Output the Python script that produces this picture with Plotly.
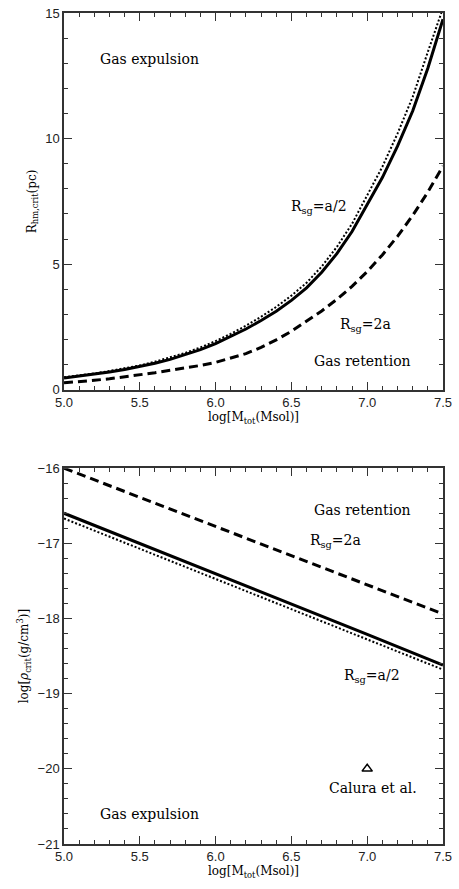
import plotly.graph_objects as go

# ---------------- data ----------------
logM = [5.0, 5.1, 5.2, 5.3, 5.4, 5.5, 5.6, 5.7, 5.8, 5.9, 6.0, 6.1, 6.2,
        6.3, 6.4, 6.5, 6.6, 6.7, 6.8, 6.9, 7.0, 7.1, 7.2, 7.3, 7.4, 7.5]
R_half = [0.47, 0.54, 0.62, 0.71, 0.81, 0.92, 1.06, 1.21, 1.39, 1.60, 1.84, 2.12, 2.42,
          2.76, 3.13, 3.56, 4.06, 4.68, 5.42, 6.30, 7.35, 8.45, 9.70, 11.10, 12.80, 14.75]  # solid
R_dot = [0.50, 0.57, 0.65, 0.75, 0.85, 0.97, 1.12, 1.28, 1.47, 1.69, 1.94, 2.23, 2.55,
         2.91, 3.30, 3.75, 4.26, 4.91, 5.69, 6.61, 7.72, 8.88, 10.20, 11.66, 13.45, 15.20]  # dotted
R_2a = [0.28, 0.32, 0.38, 0.44, 0.51, 0.59, 0.68, 0.78, 0.87, 0.97, 1.09, 1.25, 1.44,
        1.69, 1.99, 2.33, 2.72, 3.14, 3.60, 4.12, 4.71, 5.37, 6.11, 6.94, 7.87, 8.91]       # dashed

logM_b = [5.0, 5.5, 6.0, 6.5, 7.0, 7.5]
rho_half = [-16.60, -17.00, -17.40, -17.81, -18.21, -18.62]
rho_dot = [-16.67, -17.07, -17.47, -17.88, -18.28, -18.68]
rho_2a = [-16.00, -16.39, -16.78, -17.17, -17.55, -17.94]

calura_x = [7.0]
calura_y = [-20.0]

xticks = [5.0, 5.5, 6.0, 6.5, 7.0, 7.5]
yticks_top = [0, 5, 10, 15]
yticks_bot = [-21, -20, -19, -18, -17, -16]

W, H = 459, 889
ML, MR, MT, MB = 64, 16, 6, 45
ph = H - MT - MB
top_dom = [1 - 380 / ph, 1]
bot_dom = [0, 1 - 459 / ph]

SERIF = "DejaVu Serif"
TICKF = dict(family="Liberation Sans", size=13, color="#222")
AX = "#333"

fig = go.Figure()
k = dict(mode="lines", showlegend=False, hoverinfo="skip")
fig.add_trace(go.Scatter(x=logM, y=R_dot, line=dict(color="black", width=2, dash="2px,2px"), xaxis="x", yaxis="y", **k))
fig.add_trace(go.Scatter(x=logM, y=R_half, line=dict(color="black", width=3), xaxis="x", yaxis="y", **k))
fig.add_trace(go.Scatter(x=logM, y=R_2a, line=dict(color="black", width=3, dash="9px,5px"), xaxis="x", yaxis="y", **k))

fig.add_trace(go.Scatter(x=logM_b, y=rho_dot, line=dict(color="black", width=2, dash="2px,2px"), xaxis="x2", yaxis="y2", **k))
fig.add_trace(go.Scatter(x=logM_b, y=rho_half, line=dict(color="black", width=3), xaxis="x2", yaxis="y2", **k))
fig.add_trace(go.Scatter(x=logM_b, y=rho_2a, line=dict(color="black", width=3, dash="9px,5px"), xaxis="x2", yaxis="y2", **k))
fig.add_trace(go.Scatter(x=calura_x, y=calura_y, mode="markers", showlegend=False, hoverinfo="skip",
                         marker=dict(symbol="triangle-up-open", size=9, color="black", line=dict(width=1.5)),
                         xaxis="x2", yaxis="y2"))

def xax(anchor, dom):
    return dict(domain=[0, 1], anchor=anchor, range=[5.0, 7.5], tickvals=xticks, tickformat=".1f",
                ticks="inside", ticklen=8, tickwidth=1, tickcolor=AX, showline=True, linecolor=AX,
                linewidth=1.5, mirror="ticks", showgrid=False, zeroline=False, tickfont=TICKF,
                minor=dict(dtick=0.1, ticks="inside", ticklen=4, tickcolor=AX, showgrid=False),
                title=dict(text="log[M<sub>tot</sub>(Msol)]", font=dict(family=SERIF, size=12, color="black"), standoff=2))

def yax(anchor, dom, rng, tv, mdt, title):
    return dict(domain=dom, anchor=anchor, range=rng, tickvals=tv,
                ticks="inside", ticklen=8, tickwidth=1, tickcolor=AX, showline=True, linecolor=AX,
                linewidth=1.5, mirror="ticks", showgrid=False, zeroline=False, tickfont=TICKF,
                minor=dict(dtick=mdt, ticks="inside", ticklen=4, tickcolor=AX, showgrid=False),
                title=dict(text=title, font=dict(family=SERIF, size=12, color="black"), standoff=6))

fig.update_layout(
    width=W, height=H, margin=dict(l=ML, r=MR, t=MT, b=MB),
    paper_bgcolor="white", plot_bgcolor="white",
    xaxis=xax("y", top_dom),
    yaxis=yax("x", top_dom, [0, 15], yticks_top, 1, "R<sub>hm,crit</sub>(pc)"),
    xaxis2=xax("y2", bot_dom),
    yaxis2=yax("x2", bot_dom, [-21, -16], yticks_bot, 0.2, "log[<i>ρ</i><sub>crit</sub>(g/cm<sup>3</sup>)]"),
)

AF = dict(family=SERIF, size=14, color="black")
ann = [
    ("x", "y", 5.567, 13.15, "Gas expulsion"),
    ("x", "y", 6.68, 7.28, "R<sub>sg</sub>=a/2"),
    ("x", "y", 6.99, 2.6, "R<sub>sg</sub>=2a"),
    ("x", "y", 6.97, 1.16, "Gas retention"),
    ("x2", "y2", 6.97, -16.55, "Gas retention"),
    ("x2", "y2", 6.79, -16.97, "R<sub>sg</sub>=2a"),
    ("x2", "y2", 7.03, -18.77, "R<sub>sg</sub>=a/2"),
    ("x2", "y2", 7.04, -20.25, "Calura et al."),
    ("x2", "y2", 5.567, -20.6, "Gas expulsion"),
]
for xr, yr, x, y, t in ann:
    fig.add_annotation(xref=xr, yref=yr, x=x, y=y, text=t, showarrow=False, font=AF)

fig.write_html("out.html")
